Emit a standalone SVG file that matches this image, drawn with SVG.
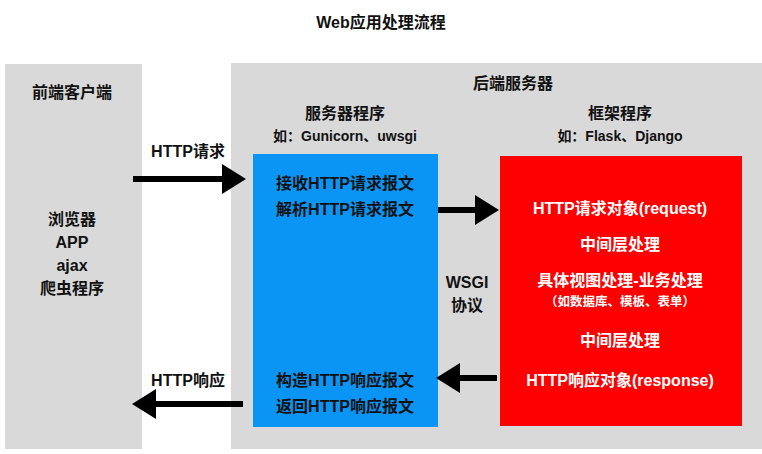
<svg xmlns="http://www.w3.org/2000/svg" width="762" height="454" viewBox="0 0 762 454">
<style>
text{font-family:"Liberation Sans","Noto Sans CJK SC",sans-serif;font-weight:bold;text-anchor:middle;dominant-baseline:central;font-size:16px;fill:#111}
.w{fill:#fff}
.s{font-size:14px}
.sm{font-size:12.5px}
</style>
<defs><marker id="ah" markerWidth="4" markerHeight="5" refX="3" refY="2.5" orient="auto" markerUnits="strokeWidth"><path d="M0,0 L4,2.5 L0,5 Z" fill="#000"/></marker></defs>
<rect width="762" height="454" fill="#fff"/>
<text x="381" y="22">Web应用处理流程</text>
<g id="client"><rect x="5" y="64" width="137" height="385" fill="#d9d9d9"/>
<text x="72" y="92">前端客户端</text><text x="72" y="219">浏览器</text><text x="72" y="242">APP</text><text x="72" y="265">ajax</text><text x="72" y="288">爬虫程序</text></g>
<g id="backend"><rect x="231" y="63" width="531" height="386" fill="#d9d9d9"/>
<text x="513" y="83">后端服务器</text><text x="345" y="113">服务器程序</text><text x="345" y="136" class="s">如：Gunicorn、uwsgi</text>
<text x="620" y="113">框架程序</text><text x="620" y="136" class="s">如：Flask、Django</text>
<text x="467" y="282">WSGI</text><text x="467" y="305">协议</text></g>
<g id="server"><rect x="253" y="154" width="185" height="273" fill="#0a95f5"/>
<text x="345" y="183">接收HTTP请求报文</text><text x="345" y="209">解析HTTP请求报文</text>
<text x="345" y="380">构造HTTP响应报文</text><text x="345" y="406">返回HTTP响应报文</text></g>
<g id="framework"><rect x="500" y="156" width="242" height="270" fill="#fe0000"/>
<text class="w" x="620" y="208">HTTP请求对象(request)</text><text class="w" x="620" y="244">中间层处理</text>
<text class="w" x="620" y="280">具体视图处理-业务处理</text><text class="w sm" x="620" y="302">（如数据库、模板、表单）</text>
<text class="w" x="620" y="340">中间层处理</text><text class="w" x="620" y="380">HTTP响应对象(response)</text></g>
<g id="connectors" stroke="#000" stroke-width="6" marker-end="url(#ah)">
<line x1="133" y1="179" x2="240" y2="179"/>
<line x1="438" y1="210" x2="493" y2="210"/>
<line x1="497" y1="378" x2="442" y2="378"/>
<line x1="243" y1="404" x2="138" y2="404"/>
</g>
<text x="188" y="151">HTTP请求</text><text x="188" y="380">HTTP响应</text>
</svg>
